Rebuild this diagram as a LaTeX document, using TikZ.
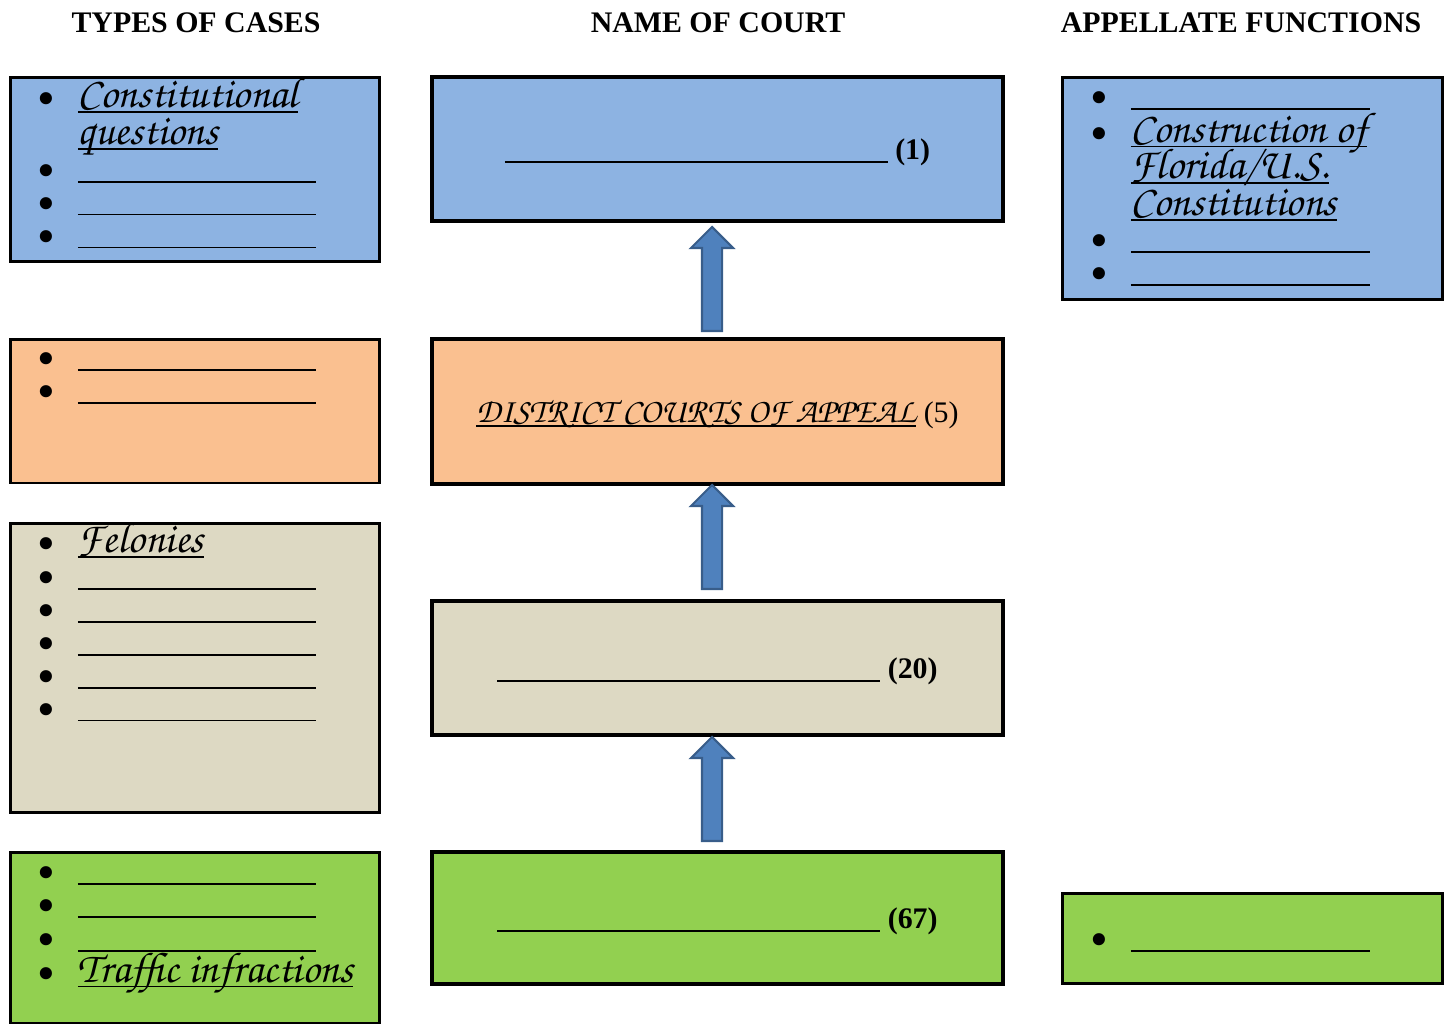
\documentclass[tikz,border=0pt]{standalone}
\usepackage{fontspec}
\setmainfont{Liberation Serif}
\usetikzlibrary{positioning,calc,shapes.arrows}

\definecolor{courtblue}{HTML}{8DB3E2}
\definecolor{courtorange}{HTML}{FAC090}
\definecolor{courttan}{HTML}{DDD9C3}
\definecolor{courtgreen}{HTML}{92D050}
\definecolor{arrowfill}{HTML}{4F81BD}
\definecolor{arrowedge}{HTML}{385D8A}

\newsavebox\handbox
% handwritten, underlined entry
\newcommand{\handul}[2][24.5]{\sbox\handbox{\fontencoding{T1}\fontfamily{pzc}\fontseries{mb}\fontshape{it}\fontsize{#1}{18.7}\selectfont #2}%
  \smash{\rlap{\rule[-3pt]{\wd\handbox}{1.1pt}}\usebox\handbox}}
\newcommand{\blankline}[1]{\rule[-2pt]{#1}{1pt}}
\newcommand{\listdot}{\raisebox{-4.8pt}{\scalebox{1.7}{\textbullet}}}
\newcommand{\caselist}[1]{\begin{tabular}[t]{@{}p{0.8cm}@{}l@{}}#1\end{tabular}}

\tikzset{
  casebox/.style={draw=black, line width=1.7pt, inner sep=0pt, minimum width=7.4cm},
  courtbox/.style={draw=black, line width=2.3pt, inner sep=0pt, minimum width=11.42cm,
    text height=12pt, text depth=0pt},
  funcbox/.style={draw=black, line width=1.7pt, inner sep=0pt, minimum width=7.62cm},
  listtext/.style={anchor=base west, inner sep=0pt},
  header/.style={font=\fontsize{17}{20}\selectfont\bfseries, inner sep=0pt},
  uparrow/.style={single arrow, draw=arrowedge, fill=arrowfill, line width=1.2pt,
    rotate=90, minimum height=2.08cm, minimum width=0.84cm,
    single arrow head extend=0.22cm, inner sep=0.18cm}
}

\begin{document}
\begin{tikzpicture}[x=0.02cm, y=-0.02cm, font=\fontsize{17}{18.7}\selectfont]
\useasboundingbox (0,0) rectangle (1453,1025);

% Column headers
\node[header] (casesHead) at (196,23) {TYPES OF CASES};
\node[header] (courtHead) at (718,23) {NAME OF COURT};
\node[header] (funcHead) at (1241,23) {APPELLATE FUNCTIONS};

% Types of cases
\node[casebox, fill=courtblue, minimum height=3.7cm] (casesA) at (195,169.5) {};
\node[casebox, fill=courtorange, minimum height=2.88cm] (casesB) at (195,411) {};
\node[casebox, fill=courttan, minimum height=5.8cm] (casesC) at (195,668) {};
\node[casebox, fill=courtgreen, minimum height=3.42cm] (casesD) at (195,937.5) {};

\node[listtext] (casesAtext) at ($(casesA.north west)+(29,32)$) {\caselist{
  \listdot & \handul{Constitutional}\\[2.3pt]
   & \handul{questions}\\[1pt]
  \listdot & \blankline{4.76cm}\\
  \listdot & \blankline{4.76cm}\\
  \listdot & \blankline{4.76cm}}};
\node[listtext] (casesBtext) at ($(casesB.north west)+(29,30)$) {\caselist{
  \listdot & \blankline{4.76cm}\\
  \listdot & \blankline{4.76cm}}};
\node[listtext] (casesCtext) at ($(casesC.north west)+(29,31)$) {\caselist{
  \listdot & \handul{Felonies}\\[0.6pt]
  \listdot & \blankline{4.76cm}\\
  \listdot & \blankline{4.76cm}\\
  \listdot & \blankline{4.76cm}\\
  \listdot & \blankline{4.76cm}\\
  \listdot & \blankline{4.76cm}}};
\node[listtext] (casesDtext) at ($(casesD.north west)+(29,31)$) {\caselist{
  \listdot & \blankline{4.76cm}\\
  \listdot & \blankline{4.76cm}\\[0.6pt]
  \listdot & \blankline{4.76cm}\\[0.6pt]
  \listdot & \handul{Traffic infractions}}};

% Courts
\node[courtbox, fill=courtblue, minimum height=2.88cm] (supreme) at (717.5,149)
  {\blankline{7.66cm} \textbf{(1)}};
\node[courtbox, fill=courtorange, minimum height=2.9cm] (district) at (717.5,411.5)
  {\handul[19.5]{DISTRICT COURTS OF APPEAL} (5)};
\node[courtbox, fill=courttan, minimum height=2.68cm] (circuit) at (717.5,668)
  {\blankline{7.66cm} \textbf{(20)}};
\node[courtbox, fill=courtgreen, minimum height=2.64cm] (county) at (717.5,918)
  {\blankline{7.66cm} \textbf{(67)}};

% Appeals go up
\node[uparrow] (upA) at ($(district.north)!0.5!(supreme.south)+(-5.5,4)$) {};
\node[uparrow] (upB) at ($(circuit.north)!0.5!(district.south)+(-5.5,-0.5)$) {};
\node[uparrow] (upC) at ($(county.north)!0.5!(circuit.south)+(-5.5,0.5)$) {};

% Appellate functions
\node[funcbox, fill=courtblue, minimum height=4.46cm] (funcA) at (1252.5,188.5) {};
\node[funcbox, fill=courtgreen, minimum height=1.8cm] (funcB) at (1252.5,938) {};

\node[listtext] (funcAtext) at ($(funcA.north west)+(30,31)$) {\caselist{
  \listdot & \blankline{4.78cm}\\[1.6pt]
  \listdot & \handul{Construction of}\\[2.2pt]
   & \handul{Florida/U.S.}\\[2.2pt]
   & \handul{Constitutions}\\[0.5pt]
  \listdot & \blankline{4.78cm}\\
  \listdot & \blankline{4.78cm}}};
\node[listtext] (funcBtext) at ($(funcB.north west)+(30,57)$) {\caselist{
  \listdot & \blankline{4.78cm}}};
\end{tikzpicture}
\end{document}
